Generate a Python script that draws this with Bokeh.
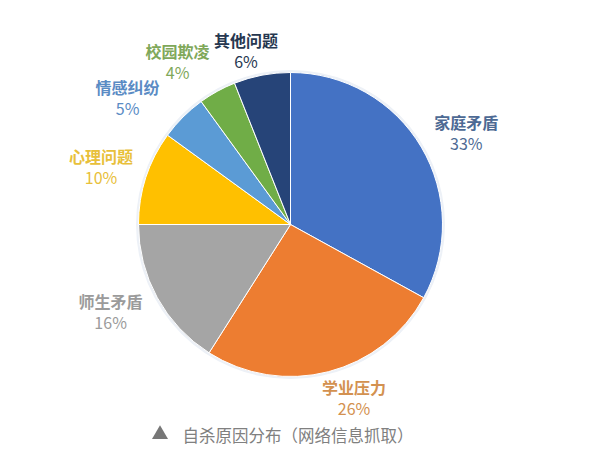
import math
from bokeh.plotting import figure
from bokeh.models import Range1d, ColumnDataSource
from bokeh.core.properties import value
from bokeh.embed import file_html
from bokeh.resources import INLINE

# ---- data ----
categories = ["家庭矛盾", "学业压力", "师生矛盾", "心理问题", "情感纠纷", "校园欺凌", "其他问题"]
shares = [33, 26, 16, 10, 5, 4, 6]
caption = "自杀原因分布（网络信息抓取）"

# ---- styles ----
slice_colors = ["#4472C4", "#ED7D31", "#A5A5A5", "#FFC000", "#5B9BD5", "#70AD47", "#264478"]
label_colors = ["#4d6a94", "#d39150", "#9b9b9b", "#e8c03a", "#5a8bc4", "#7fa85a", "#263750"]
# label nudges in pixels (screen x, screen y down)
label_nudge = [(8, 7), (15, -16), (-9, -7), (-4, 2), (-25, 10), (-19, 7), (-8, 17)]

W, H = 574, 448
FONT = "Noto Sans CJK SC"

# data coordinates: x = picture x, y = H - picture y
p = figure(width=W, height=H, output_backend="svg", toolbar_location=None,
           x_range=Range1d(0, W), y_range=Range1d(0, H),
           min_border=0, min_border_left=0, min_border_right=0,
           min_border_top=0, min_border_bottom=0)
p.axis.visible = False
p.grid.visible = False
p.outline_line_color = None
p.background_fill_color = "white"
p.border_fill_color = "white"

cx = 290
cy = H - 224
R = 152

total = sum(shares)
starts, ends, mids = [], [], []
acc = 0
for s in shares:
    a0 = math.pi / 2 - 2 * math.pi * acc / total
    acc += s
    a1 = math.pi / 2 - 2 * math.pi * acc / total
    starts.append(a0)
    ends.append(a1)
    mids.append((a0 + a1) / 2)

src = ColumnDataSource(dict(start=starts, end=ends, color=slice_colors,
                            x=[cx] * len(shares), y=[cy] * len(shares)))
# soft halo
p.circle(x=cx, y=cy, radius=R + 2.5, radius_units="screen",
         fill_color="#edf1f7", line_color=None)
p.wedge(x="x", y="y", radius=R, radius_units="screen",
        start_angle="start", end_angle="end", direction="clock",
        fill_color="color", line_color="white", line_width=1, source=src)

LR = 195
lx, ly_name, ly_pct, pct_txt = [], [], [], []
for m, (dx, dy), s in zip(mids, label_nudge, shares):
    x = cx + LR * math.cos(m) + dx
    y = cy + LR * math.sin(m) - dy
    lx.append(x)
    ly_name.append(y + 10)
    ly_pct.append(y - 11)
    pct_txt.append(f"{s}%")

lsrc = ColumnDataSource(dict(x=lx, yn=ly_name, yp=ly_pct, name=categories,
                             pct=pct_txt, color=label_colors))
p.text(x="x", y="yn", text="name", source=lsrc, text_color="color",
       text_font=value(FONT), text_font_size="16px", text_font_style="bold",
       text_align="center", text_baseline="middle")
p.text(x="x", y="yp", text="pct", source=lsrc, text_color="color",
       text_font=value(FONT), text_font_size="16px",
       text_align="center", text_baseline="middle")

# caption
cap_y = H - 434
p.scatter(x=[159.5], y=[cap_y], marker="triangle", size=16,
          fill_color="#777777", line_color=None)
p.text(x=[182], y=[cap_y], text=[caption], text_color="#808080",
       text_font=value(FONT), text_font_size="16.5px",
       text_align="left", text_baseline="middle")

open("out.html", "w").write(file_html(p, INLINE))
